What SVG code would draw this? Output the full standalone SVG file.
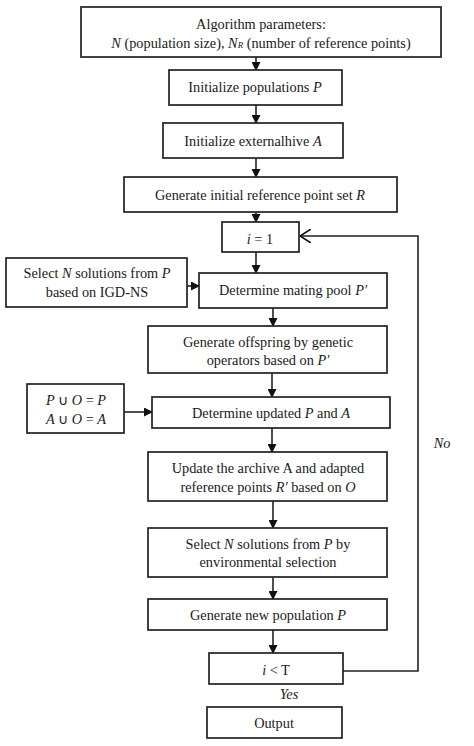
<svg xmlns="http://www.w3.org/2000/svg" width="474" height="746" viewBox="0 0 474 746">
<style>
.b{fill:#fff;stroke:#222;stroke-width:1.7}
.t{font-family:"Liberation Serif",serif;font-size:14.3px;fill:#1a1a1a;text-anchor:middle}
.c{fill:none;stroke:#222;stroke-width:1.6}
</style>
<defs>
<marker id="a" markerWidth="9" markerHeight="9" refX="8" refY="4.5" orient="auto" markerUnits="userSpaceOnUse">
<path d="M0,0 L9,4.5 L0,9 Z" fill="#111"/>
</marker>
<marker id="o" markerWidth="12" markerHeight="14" refX="11" refY="7" orient="auto" markerUnits="userSpaceOnUse">
<path d="M0,0 L11,7 L0,14" fill="none" stroke="#111" stroke-width="1.6"/>
</marker>
</defs>
<rect width="474" height="746" fill="#fff"/>
<g id="connectors">
<line class="c" x1="256" y1="57" x2="256" y2="70" marker-end="url(#a)"/>
<line class="c" x1="256" y1="105" x2="256" y2="123" marker-end="url(#a)"/>
<line class="c" x1="256" y1="158" x2="256" y2="177" marker-end="url(#a)"/>
<line class="c" x1="256" y1="212" x2="256" y2="222" marker-end="url(#a)"/>
<line class="c" x1="256" y1="252" x2="256" y2="273" marker-end="url(#a)"/>
<line class="c" x1="187" y1="286" x2="199" y2="286" marker-end="url(#a)"/>
<line class="c" x1="273" y1="308" x2="273" y2="326" marker-end="url(#a)"/>
<line class="c" x1="272" y1="373" x2="272" y2="397" marker-end="url(#a)"/>
<line class="c" x1="124" y1="412" x2="152" y2="412" marker-end="url(#a)"/>
<line class="c" x1="272" y1="428" x2="272" y2="452" marker-end="url(#a)"/>
<line class="c" x1="273" y1="501" x2="273" y2="528" marker-end="url(#a)"/>
<line class="c" x1="273" y1="577" x2="273" y2="599" marker-end="url(#a)"/>
<line class="c" x1="273" y1="630" x2="273" y2="653" marker-end="url(#a)"/>
<polyline class="c" points="343,671 418,671 418,236 300,236" marker-end="url(#o)"/>
</g>
<g id="n1"><rect class="b" x="81" y="7" width="360" height="50"/>
<text class="t" x="261" y="29">Algorithm parameters:</text>
<text class="t" x="261" y="48"><tspan font-style="italic">N</tspan> (population size), <tspan font-style="italic">N<tspan font-size="9">R</tspan></tspan> (number of reference points)</text></g>
<g id="n2"><rect class="b" x="169" y="70" width="173" height="35"/>
<text class="t" x="255" y="92">Initialize populations <tspan font-style="italic">P</tspan></text></g>
<g id="n3"><rect class="b" x="163" y="123" width="180" height="35"/>
<text class="t" x="253" y="146">Initialize externalhive <tspan font-style="italic">A</tspan></text></g>
<g id="n4"><rect class="b" x="124" y="177" width="273" height="35"/>
<text class="t" x="260" y="200">Generate initial reference point set <tspan font-style="italic">R</tspan></text></g>
<g id="n5"><rect class="b" x="222" y="222" width="77" height="30"/>
<text class="t" x="260" y="244"><tspan font-style="italic">i</tspan> = 1</text></g>
<g id="n6"><rect class="b" x="6" y="258" width="181" height="49"/>
<text class="t" x="97" y="278">Select <tspan font-style="italic">N</tspan> solutions from <tspan font-style="italic">P</tspan></text>
<text class="t" x="97" y="297">based on IGD-NS</text></g>
<g id="n7"><rect class="b" x="199" y="273" width="188" height="35"/>
<text class="t" x="293" y="295">Determine mating pool <tspan font-style="italic">P′</tspan></text></g>
<g id="n8"><rect class="b" x="148" y="326" width="239" height="47"/>
<text class="t" x="268" y="347">Generate offspring by genetic</text>
<text class="t" x="268" y="365">operators based on <tspan font-style="italic">P′</tspan></text></g>
<g id="n9"><rect class="b" x="27" y="384" width="97" height="49"/>
<text class="t" x="76" y="405"><tspan font-style="italic">P</tspan>  ∪  <tspan font-style="italic">O</tspan> = <tspan font-style="italic">P</tspan></text>
<text class="t" x="76" y="424"><tspan font-style="italic">A</tspan>  ∪  <tspan font-style="italic">O</tspan> = <tspan font-style="italic">A</tspan></text></g>
<g id="n10"><rect class="b" x="152" y="397" width="238" height="31"/>
<text class="t" x="271" y="418">Determine updated <tspan font-style="italic">P</tspan> and <tspan font-style="italic">A</tspan></text></g>
<g id="n11"><rect class="b" x="148" y="452" width="239" height="49"/>
<text class="t" x="268" y="473">Update the archive A and adapted</text>
<text class="t" x="268" y="492">reference points <tspan font-style="italic">R′</tspan> based on <tspan font-style="italic">O</tspan></text></g>
<g id="n12"><rect class="b" x="148" y="528" width="239" height="49"/>
<text class="t" x="268" y="549">Select <tspan font-style="italic">N</tspan> solutions from <tspan font-style="italic">P</tspan> by</text>
<text class="t" x="268" y="567">environmental selection</text></g>
<g id="n13"><rect class="b" x="148" y="599" width="239" height="31"/>
<text class="t" x="268" y="620">Generate new population <tspan font-style="italic">P</tspan></text></g>
<g id="n14"><rect class="b" x="209" y="653" width="134" height="31"/>
<text class="t" x="276" y="675"><tspan font-style="italic">i</tspan> &lt; T</text></g>
<g id="n15"><rect class="b" x="207" y="707" width="135" height="31"/>
<text class="t" x="274" y="728">Output</text></g>
<text class="t" x="289" y="699" font-style="italic">Yes</text>
<text class="t" x="442" y="448" font-style="italic">No</text>
</svg>
